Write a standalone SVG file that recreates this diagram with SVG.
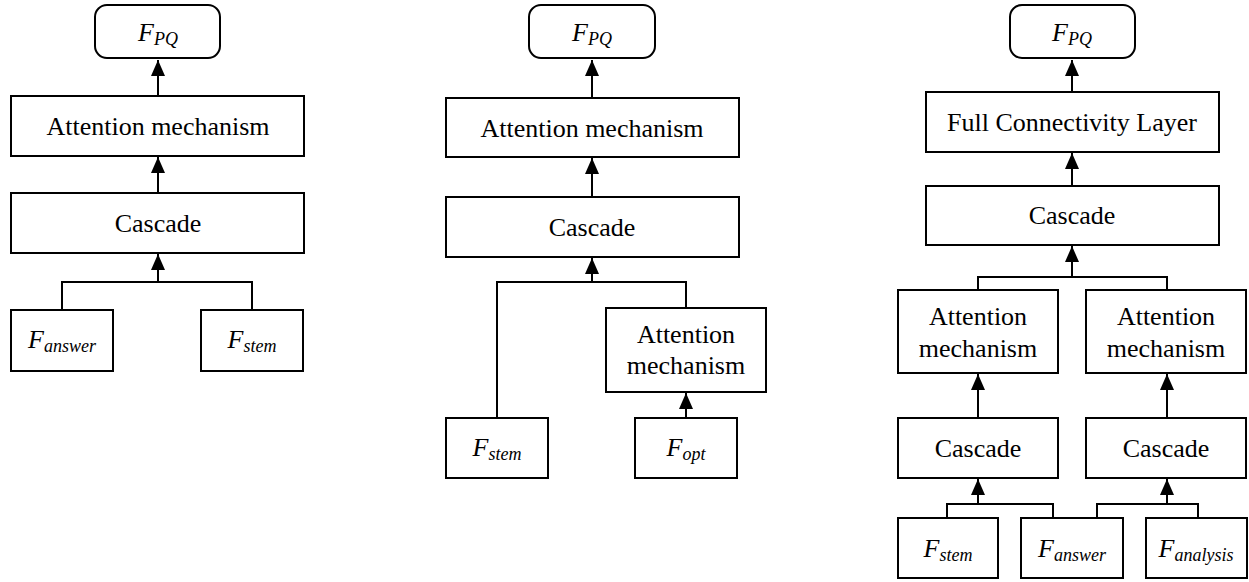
<svg xmlns="http://www.w3.org/2000/svg" width="1249" height="582" viewBox="0 0 1249 582">
<style>
.box{fill:#fff;stroke:#000;stroke-width:2}
text{font-family:'Times New Roman','Liberation Serif','DejaVu Serif',serif;font-size:26px;fill:#000;text-anchor:middle}
.f{font-style:italic}
.s{font-size:18px}
.c{fill:none;stroke:#000;stroke-width:2}
</style>
<defs>
<marker id="arr" markerUnits="userSpaceOnUse" markerWidth="16" markerHeight="14" refX="16" refY="7" orient="auto">
<path d="M0,0 L16,7 L0,14 z" fill="#000"/>
</marker>
</defs>
<rect width="1249" height="582" fill="#fff"/>
<g id="connectors">
<path class="c" d="M158,96 V60" marker-end="url(#arr)"/>
<path class="c" d="M158,193 V157" marker-end="url(#arr)"/>
<path class="c" d="M62,310 V282 H252 V310"/>
<path class="c" d="M158,282 V254" marker-end="url(#arr)"/>
<path class="c" d="M592,98 V60" marker-end="url(#arr)"/>
<path class="c" d="M592,197 V158" marker-end="url(#arr)"/>
<path class="c" d="M497,418 V282 H686 V308"/>
<path class="c" d="M592,282 V258" marker-end="url(#arr)"/>
<path class="c" d="M686,418 V393" marker-end="url(#arr)"/>
<path class="c" d="M1072,92 V60" marker-end="url(#arr)"/>
<path class="c" d="M1072,186 V153" marker-end="url(#arr)"/>
<path class="c" d="M978,290 V277 H1167 V290"/>
<path class="c" d="M1072,277 V246" marker-end="url(#arr)"/>
<path class="c" d="M978,418 V374" marker-end="url(#arr)"/>
<path class="c" d="M1167,418 V374" marker-end="url(#arr)"/>
<path class="c" d="M947,518 V504 H1053 V518"/>
<path class="c" d="M978,504 V479" marker-end="url(#arr)"/>
<path class="c" d="M1097,518 V504 H1198 V518"/>
<path class="c" d="M1167,504 V479" marker-end="url(#arr)"/>
</g>
<g id="p1-fpq"><rect class="box" x="95" y="5" width="125" height="53" rx="12"/><text class="f" x="158" y="41">F<tspan class="s" dy="4">PQ</tspan></text></g>
<g id="p1-att"><rect class="box" x="11" y="96" width="293" height="60"/><text x="158" y="135">Attention mechanism</text></g>
<g id="p1-cas"><rect class="box" x="11" y="193" width="293" height="60"/><text x="158" y="232">Cascade</text></g>
<g id="p1-fanswer"><rect class="box" x="11" y="310" width="102" height="61"/><text class="f" x="62" y="348">F<tspan class="s" dy="4">answer</tspan></text></g>
<g id="p1-fstem"><rect class="box" x="201" y="310" width="102" height="61"/><text class="f" x="252" y="348">F<tspan class="s" dy="4">stem</tspan></text></g>

<g id="p2-fpq"><rect class="box" x="529" y="5" width="126" height="53" rx="12"/><text class="f" x="592" y="41">F<tspan class="s" dy="4">PQ</tspan></text></g>
<g id="p2-att"><rect class="box" x="446" y="98" width="293" height="59"/><text x="592" y="137">Attention mechanism</text></g>
<g id="p2-cas"><rect class="box" x="446" y="197" width="293" height="60"/><text x="592" y="236">Cascade</text></g>
<g id="p2-att2"><rect class="box" x="606" y="308" width="160" height="84"/><text x="686" y="343">Attention</text><text x="686" y="374">mechanism</text></g>
<g id="p2-fstem"><rect class="box" x="446" y="418" width="102" height="60"/><text class="f" x="497" y="456">F<tspan class="s" dy="4">stem</tspan></text></g>
<g id="p2-fopt"><rect class="box" x="635" y="418" width="102" height="60"/><text class="f" x="686" y="456">F<tspan class="s" dy="4">opt</tspan></text></g>

<g id="p3-fpq"><rect class="box" x="1010" y="5" width="125" height="53" rx="12"/><text class="f" x="1072" y="41">F<tspan class="s" dy="4">PQ</tspan></text></g>
<g id="p3-fcl"><rect class="box" x="926" y="92" width="293" height="60"/><text x="1072" y="131">Full Connectivity Layer</text></g>
<g id="p3-cas"><rect class="box" x="926" y="186" width="293" height="59"/><text x="1072" y="224">Cascade</text></g>
<g id="p3-attl"><rect class="box" x="898" y="290" width="160" height="83"/><text x="978" y="325">Attention</text><text x="978" y="357">mechanism</text></g>
<g id="p3-attr"><rect class="box" x="1086" y="290" width="160" height="83"/><text x="1166" y="325">Attention</text><text x="1166" y="357">mechanism</text></g>
<g id="p3-casl"><rect class="box" x="898" y="418" width="160" height="60"/><text x="978" y="457">Cascade</text></g>
<g id="p3-casr"><rect class="box" x="1086" y="418" width="160" height="60"/><text x="1166" y="457">Cascade</text></g>
<g id="p3-fstem"><rect class="box" x="898" y="518" width="100" height="60"/><text class="f" x="948" y="557">F<tspan class="s" dy="4">stem</tspan></text></g>
<g id="p3-fanswer"><rect class="box" x="1021" y="518" width="102" height="60"/><text class="f" x="1072" y="557">F<tspan class="s" dy="4">answer</tspan></text></g>
<g id="p3-fanalysis"><rect class="box" x="1146" y="518" width="101" height="60"/><text class="f" x="1196" y="557">F<tspan class="s" dy="4">analysis</tspan></text></g>
</svg>
